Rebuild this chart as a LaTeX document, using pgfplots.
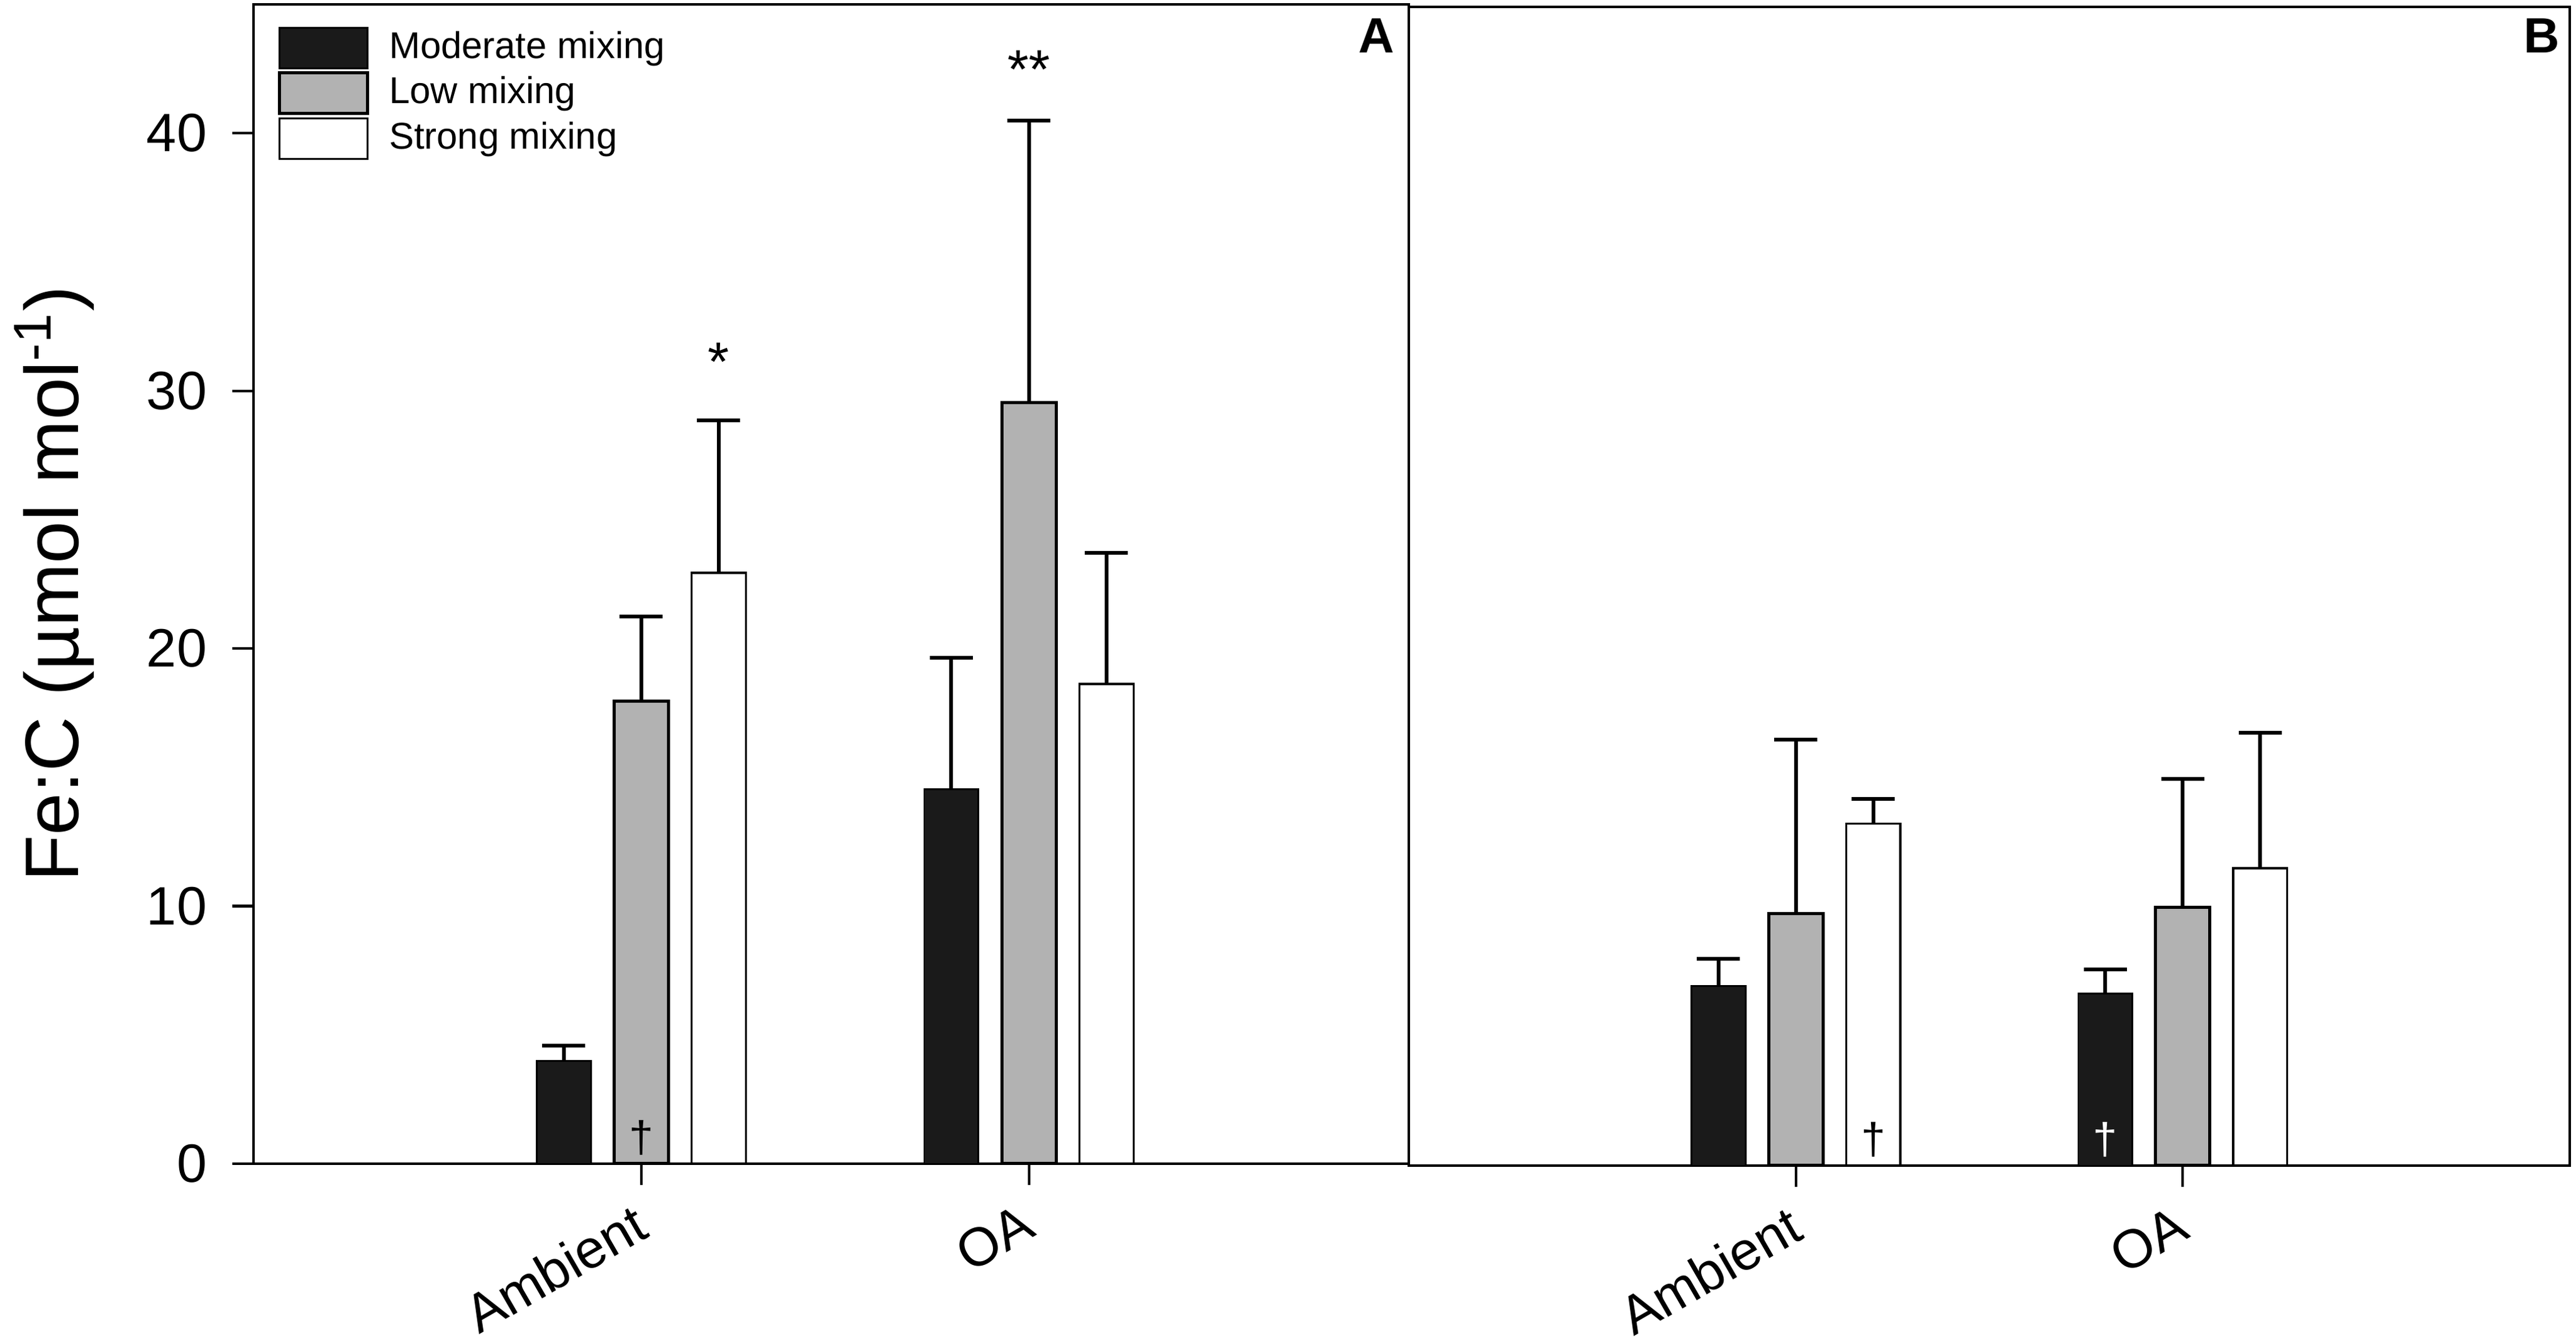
\documentclass[border=0pt]{standalone}
\usepackage{pgfplots}
\pgfplotsset{compat=1.18}
\usepackage{fontspec}
\setmainfont{Liberation Sans}
\definecolor{barblack}{RGB}{26,26,26}
\definecolor{bargray}{RGB}{178,178,178}
\pgfplotsset{
  leg/.style={legend image code/.code={\draw[##1] (0cm,-0.1625cm) rectangle (0.705cm,0.1625cm);}},
  myerr/.style={error bars/.cd, y dir=plus, y explicit,
     error bar style={line width=0.85pt, black},
     error mark options={rotate=90, line width=0.85pt, black, mark size=0.1725cm}},
  sblack/.style={ybar, bar shift=0pt, bar width=0.14, fill=barblack, draw=black, line width=0.4pt, leg, myerr},
  sgray/.style={ybar, bar shift=0pt, bar width=0.14, fill=bargray, draw=black, line width=0.72pt, leg, myerr},
  swhite/.style={ybar, bar shift=0pt, bar width=0.14, fill=white, draw=black, line width=0.48pt, leg, myerr},
  mybase/.style={
    scale only axis, anchor=south west,
    xmin=0, ymin=0, ymax=45, enlargelimits=false,
    axis line style={line width=0.6pt},
    tick style={black, line width=0.6pt},
    major tick length=0.17cm, tick align=outside, tick pos=left,
    xtick={1,2}, xticklabels={Ambient,OA},
    /pgf/number format/assume math mode=true,
    xticklabel style={rotate=30, anchor=north east, inner sep=2pt, xshift=-0.06cm, font=\fontsize{12.3}{14}\selectfont},
    yticklabel style={xshift=-0.08cm, font=\fontsize{12.3}{14}\selectfont},
    clip=false,
  },
}
\begin{document}
\begin{tikzpicture}[x=1cm,y=1cm]
\path[use as bounding box] (0,0) rectangle (20.625,10.75);
\begin{axis}[mybase, at={(2.03cm,1.435cm)}, width=9.25cm, height=9.28cm, xmax=2.98,
  ytick={0,10,20,30,40},
  ylabel={Fe:C (µmol mol\textsuperscript{-1})},
  ylabel style={at={(axis description cs:-0.1514,0.5)}, anchor=base, font=\fontsize{17.3}{20}\selectfont},
  legend style={at={(axis description cs:0.021,0.9806)}, anchor=north west, draw=none, fill=none,
    inner sep=0pt, outer sep=0pt, row sep=0.5pt, font=\fontsize{8.5}{10}\selectfont,
    nodes={inner sep=0pt}, /tikz/every odd column/.append style={column sep=4.6pt}},
  legend cell align=left,
]
\addplot[sblack] coordinates {(0.8,3.98) +- (0,0.61) (1.8,14.53) +- (0,5.12)};
\addplot[sgray] coordinates {(1.0,17.95) +- (0,3.29) (2.0,29.55) +- (0,10.94)};
\addplot[swhite] coordinates {(1.2,22.94) +- (0,5.92) (2.2,18.62) +- (0,5.08)};
\legend{Moderate mixing, Low mixing, Strong mixing}
\node[anchor=north, inner sep=0pt, font=\fontsize{12.5}{14}\selectfont] at (axis cs:1.2,31.9) {*};
\node[anchor=north, inner sep=0pt, font=\fontsize{12.5}{14}\selectfont] at (axis cs:2.0,43.25) {**};
\node[anchor=north, inner sep=0pt, font=\fontsize{10}{12}\selectfont] at (axis cs:1.0,1.72) {†};
\node[anchor=north east, inner sep=0pt, font=\fontsize{11.3}{13}\selectfont\bfseries] at (axis description cs:0.988,0.9887) {A};
\end{axis}
\begin{axis}[mybase, at={(11.28cm,1.42cm)}, width=9.295cm, height=9.275cm, xmax=3,
  ytick=\empty,
]
\addplot[sblack] coordinates {(0.8,6.97) +- (0,1.06) (1.8,6.69) +- (0,0.93)};
\addplot[sgray] coordinates {(1.0,9.79) +- (0,6.75) (2.0,10.02) +- (0,4.99)};
\addplot[swhite] coordinates {(1.2,13.28) +- (0,0.97) (2.2,11.55) +- (0,5.26)};
\node[anchor=north, inner sep=0pt, font=\fontsize{10}{12}\selectfont] at (axis cs:1.2,1.72) {†};
\node[anchor=north, inner sep=0pt, font=\fontsize{10}{12}\selectfont, text=white] at (axis cs:1.8,1.72) {†};
\node[anchor=north east, inner sep=0pt, font=\fontsize{11.3}{13}\selectfont\bfseries] at (axis description cs:0.9919,0.9908) {B};
\end{axis}
\end{tikzpicture}
\end{document}
